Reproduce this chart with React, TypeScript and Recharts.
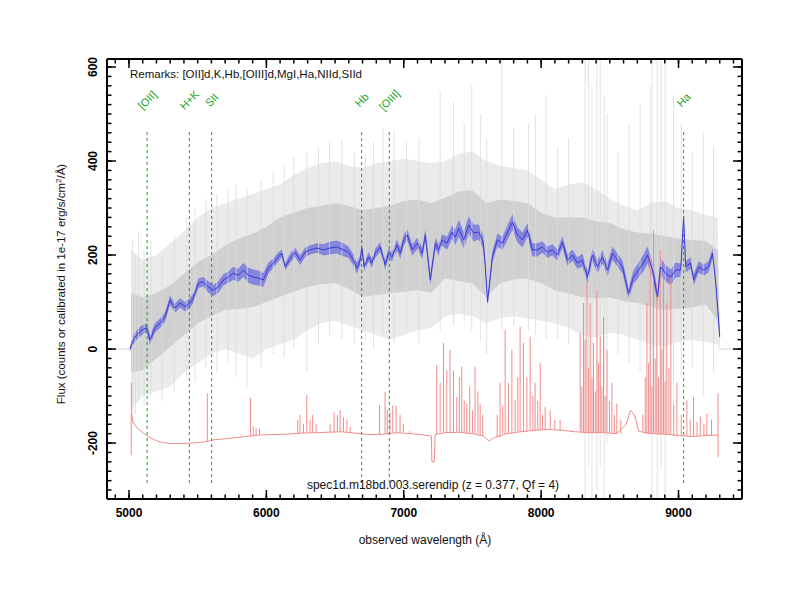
import { ComposedChart, Line, Area, Scatter, XAxis, YAxis } from "recharts";

const REDSHIFT = 0.377;
const X_DOMAIN: [number, number] = [4840, 9462];
const Y_DOMAIN: [number, number] = [-319, 617];

const xMajor = [5000, 6000, 7000, 8000, 9000];
const yMajor = [-200, 0, 200, 400, 600];
const xMinor = Array.from({ length: 46 }, (_, i) => 4900 + i * 100);
const yMinor = Array.from({ length: 46 }, (_, i) => -300 + i * 20);

// smoothed spectrum (blue) with its error band
const blueWave = [
  5007, 5031, 5056, 5092, 5129, 5153, 5189, 5226, 5262, 5299,
  5335, 5372, 5408, 5444, 5468, 5505, 5541, 5578, 5614, 5650,
  5687, 5723, 5760, 5796, 5833, 5869, 5905, 5942, 5978, 6015,
  6051, 6088, 6112, 6137, 6173, 6209, 6246, 6282, 6319, 6367,
  6416, 6464, 6513, 6562, 6598, 6634, 6659, 6683, 6695, 6712,
  6744, 6768, 6793, 6829, 6865, 6889, 6914, 6950, 6975, 7000,
  7025, 7062, 7098, 7135, 7157, 7193, 7230, 7254, 7278, 7315,
  7351, 7375, 7400, 7436, 7473, 7509, 7545, 7578, 7594, 7610,
  7645, 7681, 7718, 7754, 7791, 7827, 7864, 7900, 7936, 7973,
  8009, 8046, 8082, 8118, 8155, 8191, 8228, 8264, 8301, 8337,
  8373, 8410, 8446, 8483, 8519, 8556, 8592, 8636, 8672, 8709,
  8745, 8774, 8811, 8847, 8869, 8906, 8943, 8979, 9016, 9037,
  9052, 9088, 9110, 9147, 9183, 9219, 9248, 9271, 9293, 9300,
];
const blueFlux = [
  0, 19, 30, 40, 45, 19, 45, 55, 68, 104,
  87, 98, 90, 98, 108, 140, 143, 132, 125, 132,
  147, 153, 161, 157, 168, 157, 153, 151, 147, 172,
  183, 196, 204, 175, 193, 206, 189, 206, 211, 215,
  211, 215, 217, 211, 206, 189, 172, 189, 215, 175,
  196, 183, 204, 217, 179, 204, 196, 221, 204, 232,
  243, 211, 225, 204, 243, 147, 225, 211, 232, 225,
  249, 238, 257, 232, 264, 247, 249, 228, 175, 100,
  196, 232, 225, 247, 270, 243, 232, 253, 211, 211,
  217, 206, 211, 200, 228, 189, 200, 183, 189, 153,
  200, 175, 196, 168, 204, 189, 175, 118, 153, 168,
  183, 200, 168, 111, 175, 161, 153, 168, 168, 281,
  175, 183, 147, 175, 168, 175, 204, 140, 55, 26,
];
const blueErr = [
  6, 10, 10, 10, 10, 10, 10, 10, 10, 10,
  10, 10, 10, 10, 10, 10, 10, 12, 12, 12,
  12, 12, 14, 14, 15, 16, 16, 16, 15, 12,
  10, 10, 8, 8, 10, 10, 10, 10, 10, 10,
  12, 14, 14, 14, 12, 12, 12, 10, 10, 10,
  10, 10, 10, 10, 10, 10, 10, 12, 12, 12,
  12, 12, 12, 12, 12, 10, 12, 12, 12, 14,
  14, 16, 18, 18, 18, 18, 16, 14, 10, 8,
  12, 14, 14, 16, 16, 16, 16, 14, 14, 14,
  12, 12, 12, 12, 12, 12, 12, 12, 14, 14,
  14, 14, 14, 14, 14, 14, 14, 12, 14, 16,
  18, 18, 18, 14, 18, 18, 16, 16, 14, 10,
  12, 12, 12, 12, 12, 12, 10, 8, 6, 4,
];

// raw flux (grey): faint outer spread and dense core
const greyWave = [
  5015, 5100, 5200, 5300, 5400, 5500, 5600, 5700, 5800, 5900,
  6000, 6100, 6200, 6300, 6400, 6500, 6600, 6700, 6800, 6900,
  7000, 7100, 7200, 7300, 7400, 7500, 7600, 7700, 7800, 7900,
  8000, 8100, 8200, 8300, 8400, 8500, 8600, 8700, 8800, 8900,
  9000, 9100, 9200, 9285, 9300,
];
const greyOuterHi = [
  210, 190, 200, 225, 250, 280, 300, 310, 320, 330,
  340, 350, 370, 385, 395, 400, 390, 385, 395, 400,
  405, 400, 395, 400, 415, 420, 400, 390, 385, 380,
  360, 340, 350, 355, 340, 320, 305, 295, 310, 315,
  300, 295, 285, 280, 60,
];
const greyOuterLo = [
  -130, -100, -90, -80, -50, -30, -10, 0, -10, -20,
  0, 10, 20, 40, 55, 60, 50, 40, 30, 20,
  30, 40, 45, 70, 75, 70, 55, 65, 70, 65,
  60, 55, 45, 30, 25, 35, 30, 20, 10, 5,
  15, 20, 15, 10, -10,
];
const greyCoreHi = [
  120, 110, 120, 135, 160, 185, 200, 220, 235, 245,
  260, 280, 290, 300, 305, 310, 305, 295, 300, 305,
  315, 318, 310, 322, 335, 338, 310, 318, 315, 310,
  290, 280, 280, 280, 272, 268, 255, 248, 245, 240,
  235, 232, 230, 210, 40,
];
const greyCoreLo = [
  -50, -45, -20, 5, 30, 55, 70, 83, 85, 89,
  100, 111, 122, 132, 138, 140, 128, 111, 115, 119,
  122, 125, 120, 150, 145, 140, 110, 140, 148, 150,
  140, 125, 118, 110, 108, 110, 102, 98, 90, 83,
  86, 89, 95, 60, 10,
];

// the longest excursions of the raw flux
const rawSpikeWave = [
  5025, 5045, 5070, 5110, 5160, 5240, 5330, 5420, 5480, 5560,
  5640, 5720, 5780, 5860, 5960, 6050, 6130, 6200, 6294, 6380,
  6460, 6550, 6640, 6720, 6780, 6850, 6930, 7020, 7110, 7265,
  7362, 7440, 7495, 7560, 7604, 7714, 7800, 7908, 7960, 8036,
  8120, 8200, 8320, 8345, 8370, 8406, 8430, 8459, 8479, 8560,
  8640, 8720, 8794, 8808, 8845, 8874, 8903, 8964, 9020, 9100,
  9180, 9255,
];
const rawSpikeLo = [
  -160, -140, -110, -120, -100, -110, -90, -60, -70, -40,
  -50, -30, -60, -80, -40, -10, -20, 0, -48, 10,
  30, 20, 10, 20, 0, 30, 10, 40, 10, 40,
  50, 60, 40, 20, -10, 40, 50, 40, 30, 20,
  20, 10, -320, -250, -320, -300, -250, -320, -200, -10,
  -30, -50, -150, -320, -320, -250, -320, -150, -60, -40,
  -100, -50,
];
const rawSpikeHi = [
  230, 200, 250, 210, 230, 200, 240, 280, 300, 320,
  330, 340, 350, 340, 360, 380, 390, 410, 420, 430,
  440, 445, 420, 415, 440, 470, 465, 440, 450, 550,
  525, 480, 560, 500, 450, 620, 470, 480, 500, 540,
  430, 450, 620, 620, 560, 620, 620, 540, 500, 420,
  480, 520, 560, 620, 620, 620, 620, 540, 480, 420,
  460, 430,
];
const rawZeroFrom = [4840, 9300];
const rawZeroTo = [5015, 9462];

// sky spectrum (red), shifted down
const skyWave = [
  5018, 5030, 5050, 5080, 5110, 5150, 5200, 5250, 5300, 5400,
  5500, 5560, 5620, 5700, 5800, 5880, 5950, 6050, 6150, 6250,
  6350, 6450, 6550, 6650, 6750, 6850, 6950, 7050, 7150, 7200,
  7205, 7222, 7228, 7300, 7400, 7500, 7580, 7620, 7660, 7750,
  7850, 7950, 8050, 8150, 8250, 8350, 8450, 8550, 8620, 8650,
  8680, 8710, 8800, 8900, 9000, 9100, 9200, 9287,
];
const skyFlux = [
  -140, -155, -165, -173, -180, -188, -195, -199, -201, -201,
  -199, -197, -193, -191, -188, -185, -183, -182, -181, -179,
  -178, -177, -176, -179, -182, -181, -178, -180, -183, -185,
  -240, -240, -182, -178, -177, -180, -185, -196, -188, -180,
  -176, -173, -171, -173, -176, -178, -178, -180, -160, -130,
  -140, -175, -180, -181, -184, -186, -184, -183,
];
const skyLineWave = [
  5016, 5017, 5570, 5885, 5905, 5925, 5950, 6228, 6245, 6270,
  6294, 6318, 6337, 6362, 6464, 6493, 6517, 6537, 6561, 6586,
  6610, 6823, 6864, 6880, 6900, 6920, 6944, 6973, 6997, 7046,
  7240, 7265, 7289, 7313, 7337, 7362, 7386, 7405, 7422, 7440,
  7459, 7480, 7500, 7519, 7540, 7556, 7575, 7680, 7701, 7720,
  7738, 7762, 7787, 7811, 7830, 7847, 7871, 7896, 7920, 7940,
  7956, 7975, 7993, 8010, 8029, 8066, 8100, 8138, 8284, 8296,
  8308, 8320, 8333, 8345, 8357, 8370, 8381, 8394, 8406, 8418,
  8430, 8442, 8454, 8466, 8479, 8497, 8515, 8533, 8551, 8580,
  8740, 8758, 8770, 8782, 8794, 8806, 8818, 8830, 8842, 8855,
  8867, 8879, 8891, 8903, 8915, 8930, 8944, 8965, 8988, 9020,
  9061, 9085, 9109, 9135, 9158, 9185, 9206, 9240, 9287, 9288,
];
const skyLineTop = [
  -226, -72, -94, -104, -165, -168, -170, -150, -140, -160,
  -98, -150, -140, -160, -160, -135, -140, -130, -145, -150,
  -165, -119, -91, -130, -135, -120, -120, -140, -160, -175,
  -34, -72, 13, -45, -2, -45, -102, -60, -38, -110,
  -116, -80, -130, -38, -90, -116, -140, -140, -72, -120,
  40, -72, -2, -109, -60, 47, 13, -60, 26, -100,
  -72, -110, -30, -140, -123, -130, -150, -151, 34, -80,
  98, 20, 140, -40, 98, -60, 13, -90, 125, -30,
  26, -80, 68, -100, -2, -110, -72, -140, -116, -150,
  -140, -60, 98, -30, 196, -80, 253, -20, 140, -60,
  211, 0, 163, -70, 98, -40, 153, -120, -72, -140,
  -109, -150, -102, -155, -144, -160, -137, -150, -94, -230,
];

// identified lines (rest wavelengths)
const lineNames = ["[OII]", "H+K", "SII", "Hb", "[OIII]", "Ha"];
const lineRest = [3727, 3950, 4068, 4861, 5007, 6563];
const MARKER_BOTTOM = -285;
const MARKER_TOP = 464;
const MARKER_LABEL = 530;

const FONT = '"Liberation Sans", Arial, Helvetica, sans-serif';
// axes need a non-zero box to be drawn; keep it negligible
const THIN = 0.01;

const blueData = blueWave.map((w, i) => ({
  w,
  flux: blueFlux[i],
  band: [blueFlux[i] - blueErr[i], blueFlux[i] + blueErr[i]],
}));
const greyData = greyWave.map((w, i) => ({
  w,
  outer: [greyOuterLo[i], greyOuterHi[i]],
  core: [greyCoreLo[i], greyCoreHi[i]],
}));
const skyData = skyWave.map((w, i) => ({ w, v: skyFlux[i] }));

type Pt = { w: number; v: number | null };
const segments = (waves: number[], lo: number[], hi: number[]): Pt[] =>
  waves.flatMap((w, i) => [
    { w, v: lo[i] },
    { w, v: hi[i] },
    { w, v: null },
  ]);

const nearestSky = (w: number) => {
  let best = 0;
  skyWave.forEach((s, i) => {
    if (Math.abs(s - w) < Math.abs(skyWave[best] - w)) best = i;
  });
  return skyFlux[best];
};

const rawSpikes = segments(rawSpikeWave, rawSpikeLo, rawSpikeHi);
const rawZero: Pt[] = rawZeroFrom.flatMap((w, i) => [
  { w, v: 0 },
  { w: rawZeroTo[i], v: 0 },
  { w: rawZeroTo[i], v: null },
]);
const skySpikes = segments(skyLineWave, skyLineWave.map(nearestSky), skyLineTop);
const lineObs = lineRest.map((r) => r * (1 + REDSHIFT));
const markerSegs = segments(
  lineObs,
  lineObs.map(() => MARKER_BOTTOM),
  lineObs.map(() => MARKER_TOP)
);
const markerLabels = lineObs.map((w, i) => ({ w, v: MARKER_LABEL, name: lineNames[i] }));

function XTick({ x, y, payload }: any) {
  return (
    <text x={x} y={y + 18} textAnchor="middle" fontFamily={FONT} fontSize={12} fontWeight="bold" fill="#000">
      {payload.value}
    </text>
  );
}

function YTick({ x, y, payload }: any) {
  const tx = x - 10;
  return (
    <text
      x={tx}
      y={y}
      transform={`rotate(-90 ${tx} ${y})`}
      textAnchor="middle"
      fontFamily={FONT}
      fontSize={12}
      fontWeight="bold"
      fill="#000"
    >
      {payload.value}
    </text>
  );
}

// tick marks only: recharts drops the tick lines too when tick={false}
const NoLabel = () => <g />;

function LineLabel({ cx, cy, payload }: any) {
  return (
    <text
      x={cx}
      y={cy}
      transform={`rotate(-45 ${cx} ${cy})`}
      textAnchor="middle"
      dominantBaseline="central"
      fontFamily={FONT}
      fontSize={11}
      fill="#1f9f1f"
    >
      {payload.name}
    </text>
  );
}

const frame = { stroke: "#000", strokeWidth: 2 };
const ticks = { stroke: "#000", strokeWidth: 1.5 };

export default function App() {
  return (
    <div style={{ position: "absolute", left: 0, top: 0, width: 800, height: 600, background: "#fff" }}>
      <ComposedChart width={800} height={600} data={blueData} margin={{ top: 59, right: 58, bottom: 101, left: 107 }}>
        <XAxis xAxisId="x" dataKey="w" type="number" domain={X_DOMAIN} allowDataOverflow height={THIN}
          ticks={xMajor} interval={0} tickLine={false} tickSize={0} tickMargin={0} axisLine={frame} tick={XTick} />
        <XAxis xAxisId="xb" dataKey="w" type="number" domain={X_DOMAIN} allowDataOverflow height={THIN} mirror
          ticks={xMajor} interval={0} tickSize={9} tick={NoLabel} axisLine={false} tickLine={ticks} />
        <XAxis xAxisId="xbm" dataKey="w" type="number" domain={X_DOMAIN} allowDataOverflow height={THIN} mirror
          ticks={xMinor} interval={0} tickSize={4.5} tick={NoLabel} axisLine={false} tickLine={ticks} />
        <XAxis xAxisId="xt" dataKey="w" orientation="top" type="number" domain={X_DOMAIN} allowDataOverflow height={THIN} mirror
          ticks={xMajor} interval={0} tickSize={9} tick={NoLabel} axisLine={frame} tickLine={ticks} />
        <XAxis xAxisId="xtm" dataKey="w" orientation="top" type="number" domain={X_DOMAIN} allowDataOverflow height={THIN} mirror
          ticks={xMinor} interval={0} tickSize={4.5} tick={NoLabel} axisLine={false} tickLine={ticks} />

        <YAxis yAxisId="y" type="number" domain={Y_DOMAIN} allowDataOverflow width={THIN}
          ticks={yMajor} interval={0} tickLine={false} tickSize={0} tickMargin={0} axisLine={frame} tick={YTick} />
        <YAxis yAxisId="yl" dataKey="flux" type="number" domain={Y_DOMAIN} allowDataOverflow width={THIN} mirror
          ticks={yMajor} interval={0} tickSize={9} tick={NoLabel} axisLine={false} tickLine={ticks} />
        <YAxis yAxisId="ylm" dataKey="flux" type="number" domain={Y_DOMAIN} allowDataOverflow width={THIN} mirror
          ticks={yMinor} interval={0} tickSize={4.5} tick={NoLabel} axisLine={false} tickLine={ticks} />
        <YAxis yAxisId="yr" dataKey="flux" orientation="right" type="number" domain={Y_DOMAIN} allowDataOverflow width={THIN} mirror
          ticks={yMajor} interval={0} tickSize={9} tick={NoLabel} axisLine={frame} tickLine={ticks} />
        <YAxis yAxisId="yrm" dataKey="flux" orientation="right" type="number" domain={Y_DOMAIN} allowDataOverflow width={THIN} mirror
          ticks={yMinor} interval={0} tickSize={4.5} tick={NoLabel} axisLine={false} tickLine={ticks} />

        <Area xAxisId="x" yAxisId="y" data={greyData} dataKey="outer" type="linear"
          fill="#ebebeb" fillOpacity={1} stroke="none" isAnimationActive={false} />
        <Area xAxisId="x" yAxisId="y" data={greyData} dataKey="core" type="linear"
          fill="#d0d0d0" fillOpacity={1} stroke="none" isAnimationActive={false} />
        <Line xAxisId="x" yAxisId="y" data={rawSpikes} dataKey="v" stroke="#dadada" strokeWidth={0.8}
          dot={false} activeDot={false} isAnimationActive={false} />
        <Line xAxisId="x" yAxisId="y" data={rawZero} dataKey="v" stroke="#d2d2d2" strokeWidth={1}
          dot={false} activeDot={false} isAnimationActive={false} />

        <Line xAxisId="x" yAxisId="y" data={skyData} dataKey="v" stroke="#f08c8c" strokeWidth={1}
          dot={false} activeDot={false} isAnimationActive={false} />
        <Line xAxisId="x" yAxisId="y" data={skySpikes} dataKey="v" stroke="#f08c8c" strokeWidth={1}
          dot={false} activeDot={false} isAnimationActive={false} />

        <Area xAxisId="x" yAxisId="y" data={blueData} dataKey="band" type="linear"
          fill="#6e6ee0" fillOpacity={0.75} stroke="none" isAnimationActive={false} />
        <Line xAxisId="x" yAxisId="y" data={blueData} dataKey="flux" stroke="#3a3ad8" strokeWidth={1}
          dot={false} activeDot={false} isAnimationActive={false} />

        <Line xAxisId="x" yAxisId="y" data={markerSegs} dataKey="v" stroke="#22a022" strokeWidth={1}
          strokeDasharray="3 3" dot={false} activeDot={false} isAnimationActive={false} />
        <Scatter xAxisId="x" yAxisId="y" data={markerLabels} dataKey="v" shape={LineLabel}
          isAnimationActive={false} />
      </ComposedChart>

      <svg width={800} height={600} style={{ position: "absolute", left: 0, top: 0, pointerEvents: "none" }}>
        <text x={130} y={77.5} fontFamily={FONT} fontSize={11.5} fill="#111">
          Remarks: [OII]d,K,Hb,[OIII]d,MgI,Ha,NIId,SIId
        </text>
        <text x={433} y={489} textAnchor="middle" fontFamily={FONT} fontSize={12} fill="#111">
          spec1d.m18bd.003.serendip (z = 0.377, Qf = 4)
        </text>
        <text x={425} y={544} textAnchor="middle" fontFamily={FONT} fontSize={12} fill="#111">
          observed wavelength (Å)
        </text>
        <text x={65} y={284} transform="rotate(-90 65 284)" textAnchor="middle" fontFamily={FONT} fontSize={11.5} fill="#111">
          Flux (counts or calibrated in 1e-17 erg/s/cm
          <tspan dy={-4} fontSize={8}>2</tspan>
          <tspan dy={4}>/Å)</tspan>
        </text>
      </svg>
    </div>
  );
}
